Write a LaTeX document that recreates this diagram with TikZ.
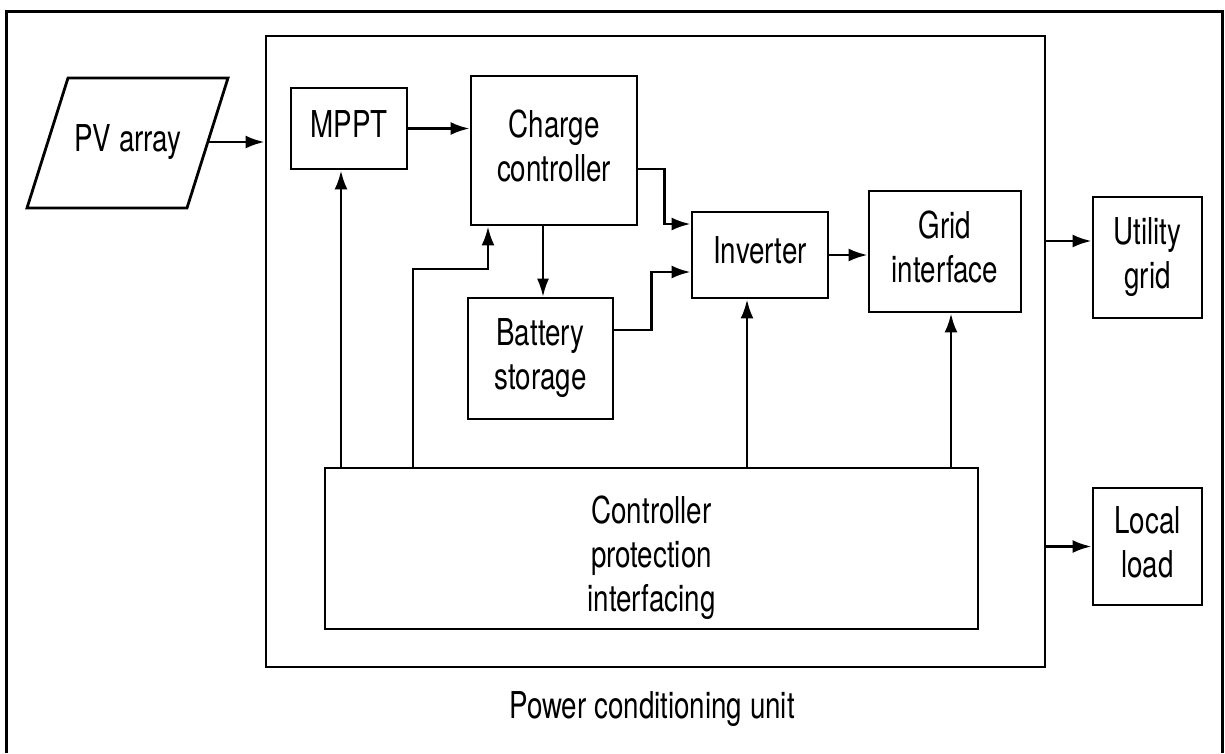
\documentclass[tikz,border=0pt]{standalone}
\usepackage{fontspec}
\setmainfont{TeX Gyre Heros}
\usepackage{graphicx}
\usetikzlibrary{arrows.meta}
\newcommand\lbl[1]{\scalebox{0.75}[1]{\begin{tabular}{@{}c@{}}#1\end{tabular}}}
\tikzset{
  txt/.style={inner sep=0pt, font=\fontsize{37}{44}\selectfont},
  box/.style={draw, line width=2.8pt, rectangle, txt},
  arr/.style={line width=2.8pt, -{Latex[length=19pt,width=13pt]}},
  thinarr/.style={line width=2pt, -{Latex[length=18pt,width=12pt]}},
  frame/.style={line width=3pt},
}
\begin{document}
\begin{tikzpicture}[x=1pt,y=-1pt]
\useasboundingbox (0,0) rectangle (1225,753);
\draw[frame] (6,753) -- (6,11) -- (1222,11) -- (1222,753);

\node[box, minimum width=779pt, minimum height=631pt] (pcu) at (655.5,351.5) {};
\node[txt] (pculbl) at (652,710) {\lbl{Power conditioning unit}};

% PV array parallelogram
\draw[line width=2.8pt, line join=miter] (68,78) -- (228,78) -- (187,208) -- (27,208) -- cycle;
\node[txt] (pv) at (128,143) {\lbl{PV array}};
\coordinate (pvr) at (208,142);

\node[box, minimum width=116pt, minimum height=81pt] (mppt) at (349,128.5) {\lbl{MPPT}};
\node[box, minimum width=166pt, minimum height=149pt] (charge) at (554,150.5) {\lbl{Charge\\controller}};
\node[box, minimum width=136pt, minimum height=86pt] (inv) at (760,255) {\lbl{Inverter}};
\node[box, minimum width=145pt, minimum height=121pt] (bat) at (540.5,358.5) {\lbl{Battery\\storage}};
\node[box, minimum width=152pt, minimum height=121pt] (grid) at (945,251.5) {\lbl{Grid\\interface}};
\node[box, minimum width=109pt, minimum height=121pt] (util) at (1147.5,257.5) {\lbl{Utility\\grid}};
\node[box, minimum width=109pt, minimum height=117pt] (load) at (1147.5,546.5) {\lbl{Local\\load}};
\node[box, minimum width=653pt, minimum height=161pt] (ctrl) at (651.5,548.5) {};
\node[txt] (ctrltxt) at (651.5,559) {\lbl{Controller\\protection\\interfacing}};

% connectors
\draw[arr] (pvr) -- (pvr -| pcu.west);
\draw[arr] (mppt) -- (mppt -| charge.west);
\draw[arr] ([yshift=-18.5pt]charge.east) -- ++(26,0) |- ([yshift=31pt]inv.west);
\draw[thinarr] ([xshift=-11pt]charge.south) -- ([xshift=-11pt]charge.south |- bat.north);
\draw[arr] ([yshift=28.5pt]bat.east) -- ++(37,0) |- ([yshift=-17pt]inv.west);
\draw[arr] ([xshift=-8pt]mppt.south |- ctrl.north) -- ([xshift=-8pt]mppt.south);
\coordinate (cc) at (413,269);
\draw[arr] (cc |- ctrl.north) -- (cc) -| ([xshift=-66pt]charge.south);
\draw[arr] ([xshift=-13pt]inv.south |- ctrl.north) -- ([xshift=-13pt]inv.south);
\draw[arr] ([xshift=6pt]grid.south |- ctrl.north) -- ([xshift=6pt]grid.south);
\draw[arr] (inv) -- (inv -| grid.west);
\draw[arr] ([yshift=16.5pt]util.west -| pcu.east) -- ([yshift=16.5pt]util.west);
\draw[arr] (load -| pcu.east) -- (load);
\end{tikzpicture}
\end{document}
